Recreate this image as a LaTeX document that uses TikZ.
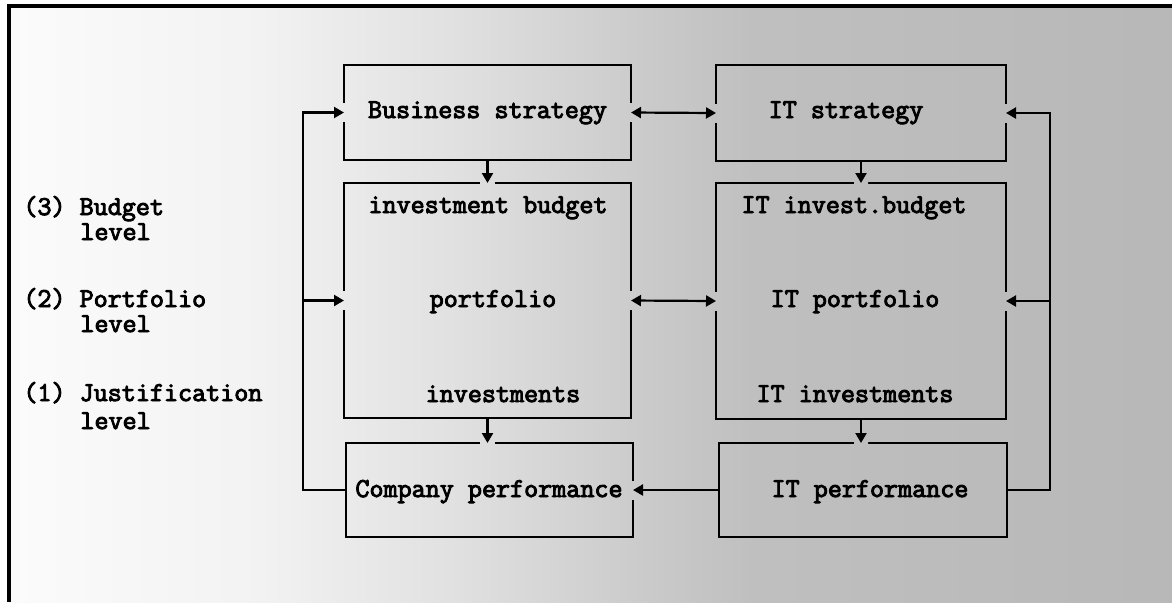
\documentclass[tikz,border=0pt]{standalone}
\usepackage{fontspec}
\newfontfamily\courb{Latin Modern Mono}[FakeBold=3.5]
\usetikzlibrary{arrows.meta,calc}
\pgfdeclarehorizontalshading{bgsh}{100bp}{gray(0bp)=(0.985); gray(25bp)=(0.985); gray(35.7bp)=(0.95); gray(44.2bp)=(0.88); gray(52.7bp)=(0.79); gray(57bp)=(0.75); gray(75bp)=(0.72); gray(100bp)=(0.72)}
\newcommand\vgap[1]{\begin{scope}\clip ($#1+(-4,-9)$) rectangle ($#1+(4,9)$); \shade[shading=bgsh] (9,6) rectangle (1172,602);\end{scope}}
\newcommand\hgap[1]{\begin{scope}\clip ($#1+(-7,-4)$) rectangle ($#1+(7,4)$); \shade[shading=bgsh] (9,6) rectangle (1172,602);\end{scope}}
\begin{document}
\begin{tikzpicture}[x=0.5pt,y=-0.5pt,
  box/.style={draw,line width=1.3pt,inner sep=0pt,outer sep=0pt},
  lbl/.style={font=\fontsize{13.65pt}{16pt}\selectfont\courb,inner sep=0pt,anchor=base},
  side/.style={lbl,anchor=base west},
  sidetop/.style={side,text depth=0pt},
  con/.style={line width=1.1pt},
  tip/.style={-{Triangle[length=5pt,width=5.5pt]}},
  dtip/.style={{Triangle[length=5pt,width=5.5pt]}-{Triangle[length=5pt,width=5.5pt]}}]
\useasboundingbox (0,0) rectangle (1172,602);
\shade[shading=bgsh] (9,6) rectangle (1172,602);
\draw[line width=1.6pt] (9,602) -- (9,6) -- (1172,6);
% boxes
\node[box,minimum width=143.5pt,minimum height=47.5pt] (bs) at (487.5,112.5) {};
\node[box,minimum width=145pt,minimum height=48pt] (its) at (861,113) {};
\node[box,minimum width=143.5pt,minimum height=117.5pt] (lb) at (487.5,300.5) {};
\node[box,minimum width=145pt,minimum height=118pt] (rb) at (861,301) {};
\node[box,minimum width=143.5pt,minimum height=47pt] (cp) at (489.5,490) {};
\node[box,minimum width=144pt,minimum height=47pt] (ip) at (863,490) {};
\coordinate (g5) at (lb.south |- cp.north);
\coordinate (g6) at (rb.south |- ip.north);
% gaps in borders where arrows enter
\vgap{(bs.west)} \vgap{(bs.east)} \vgap{(its.west)} \vgap{(its.east)}
\vgap{(lb.west)} \vgap{(lb.east)} \vgap{(rb.west)} \vgap{(rb.east)}
\vgap{(cp.east)}
\hgap{(lb.north)} \hgap{(rb.north)} \hgap{(g5)} \hgap{(g6)}
% box texts
\node[lbl] (bst) at (487.5,118) {Business strategy};
\node[lbl] (itst) at (846,118) {IT strategy};
\node[lbl] (ibt) at (488,213) {investment budget};
\node[lbl] (itibt) at (854,213) {IT invest.budget};
\node[lbl] (pft) at (493,307) {portfolio};
\node[lbl] (itpft) at (855,307) {IT portfolio};
\node[lbl] (invt) at (503,402) {investments};
\node[lbl] (itinvt) at (855,402) {IT investments};
\node[lbl] (cpt) at (489,497) {Company performance};
\node[lbl] (ipt) at (870,497) {IT performance};
% side labels
\node[sidetop] (l3a) at (23,215) {(3) Budget};
\node[side] (l3b) at (80,240) {level};
\node[sidetop] (l2a) at (23,307) {(2) Portfolio};
\node[side] (l2b) at (80,332) {level};
\node[sidetop] (l1a) at (23,401) {(1) Justification};
\node[side] (l1b) at (80,429) {level};
% connectors
\coordinate (lt) at (303,112.5);
\coordinate (lm) at (303,300.5);
\coordinate (rt) at (1050,113);
\coordinate (rm) at (1050,301);
\draw[con,tip] (cp.west) -| (lt) -- (bs.west);
\draw[con,tip] (lm) -- (lb.west);
\draw[con,tip] (ip.east) -| (rt) -- (its.east);
\draw[con,tip] (rm) -- (rb.east);
\draw[con,dtip] (bs.east) -- (its.west);
\draw[con,dtip] (lb.east) -- (rb.west);
\draw[con,tip] (ip.west) -- (cp.east);
\draw[con,tip] (bs.south) -- (lb.north);
\draw[con,tip] (its.south) -- (rb.north);
\draw[con,tip] (lb.south) -- (g5);
\draw[con,tip] (rb.south) -- (g6);
\end{tikzpicture}
\end{document}
